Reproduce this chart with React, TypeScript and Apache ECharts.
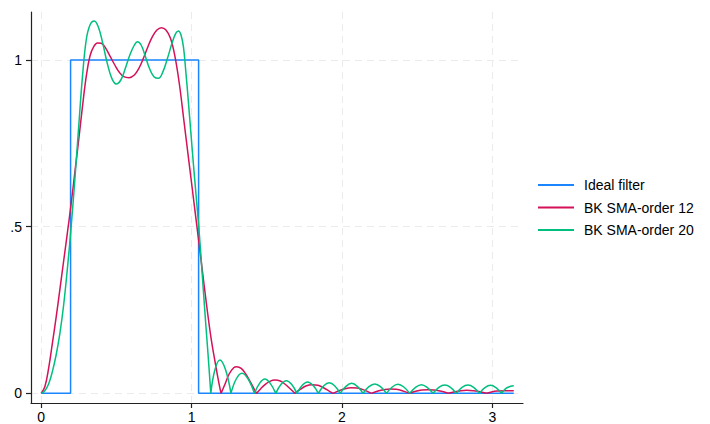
import React, { useEffect, useRef } from "react";
import * as echarts from "echarts";

const seriesNames = ["Ideal filter", "BK SMA-order 12", "BK SMA-order 20"];
const seriesColors = ["#1a85ff", "#d41159", "#00bf7f"];
const xTicks = [0, 1, 2, 3];
const yTicks = [0, 0.5, 1];
const yTickLabels = ["0", ".5", "1"];

const idealFilter = [
  [0, 0], [0.196, 0], [0.196, 1], [1.047, 1], [1.047, 0], [3.1416, 0],
];

const bkOrder12 = [
  [0, 0], [0.025, 0.02], [0.05, 0.075], [0.075, 0.15], [0.1, 0.228], [0.125, 0.312],
  [0.15, 0.397], [0.175, 0.482], [0.2, 0.57], [0.225, 0.665], [0.25, 0.76], [0.275, 0.86],
  [0.3, 0.95], [0.325, 1.012], [0.35, 1.04], [0.375, 1.051], [0.4, 1.05], [0.43, 1.035],
  [0.46, 1.01], [0.49, 0.985], [0.52, 0.963], [0.55, 0.95], [0.585, 0.947], [0.62, 0.955],
  [0.65, 0.975], [0.68, 1.005], [0.71, 1.04], [0.74, 1.07], [0.77, 1.09], [0.8, 1.097],
  [0.83, 1.09], [0.86, 1.065], [0.89, 1.01], [0.92, 0.925], [0.95, 0.815], [0.98, 0.705],
  [1.01, 0.595], [1.04, 0.485], [1.07, 0.375], [1.1, 0.265], [1.13, 0.165], [1.16, 0.085],
  [1.18, 0.035], [1.196, 0],
  [1.22, 0.025], [1.25, 0.058], [1.28, 0.077], [1.3, 0.08], [1.33, 0.075], [1.36, 0.058],
  [1.39, 0.035], [1.41, 0.018], [1.432, 0],
  [1.46, 0.014], [1.49, 0.027], [1.52, 0.036], [1.555, 0.04], [1.59, 0.037], [1.62, 0.028],
  [1.65, 0.016], [1.687, 0],
  [1.72, 0.011], [1.76, 0.022], [1.8, 0.026], [1.84, 0.024], [1.88, 0.016], [1.91, 0.008],
  [1.94, 0],
  [1.98, 0.008], [2.02, 0.014], [2.06, 0.017], [2.1, 0.016], [2.14, 0.011], [2.195, 0],
  [2.24, 0.007], [2.28, 0.011], [2.32, 0.013], [2.36, 0.012], [2.4, 0.008], [2.45, 0],
  [2.49, 0.006], [2.53, 0.01], [2.57, 0.011], [2.61, 0.01], [2.66, 0.006], [2.705, 0],
  [2.75, 0.005], [2.79, 0.008], [2.83, 0.009], [2.87, 0.008], [2.92, 0.005], [2.96, 0],
  [3.0, 0.005], [3.04, 0.007], [3.08, 0.008], [3.12, 0.008], [3.1416, 0.008],
];

const bkOrder20 = [
  [0, 0], [0.025, 0.008], [0.05, 0.028], [0.075, 0.065], [0.1, 0.115], [0.125, 0.18],
  [0.15, 0.265], [0.175, 0.375], [0.2, 0.5], [0.225, 0.645], [0.25, 0.8], [0.275, 0.95],
  [0.3, 1.06], [0.325, 1.105], [0.353, 1.117], [0.38, 1.1], [0.41, 1.05], [0.44, 0.99],
  [0.47, 0.945], [0.499, 0.928], [0.53, 0.94], [0.56, 0.975], [0.59, 1.015], [0.62, 1.045],
  [0.641, 1.055], [0.665, 1.045], [0.69, 1.015], [0.72, 0.975], [0.75, 0.95], [0.78, 0.945],
  [0.81, 0.965], [0.84, 1.005], [0.87, 1.05], [0.895, 1.08], [0.913, 1.087], [0.93, 1.075],
  [0.946, 1.04], [0.962, 0.965], [0.979, 0.875], [0.995, 0.785], [1.012, 0.69], [1.03, 0.595],
  [1.048, 0.5], [1.065, 0.395], [1.08, 0.3], [1.095, 0.205], [1.11, 0.115], [1.128, 0],
  [1.155, 0.07], [1.188, 0.1], [1.225, 0.072], [1.262, 0],
  [1.297, 0.043], [1.335, 0.06], [1.376, 0.043], [1.418, 0],
  [1.452, 0.03], [1.487, 0.043], [1.523, 0.03], [1.56, 0],
  [1.595, 0.027], [1.63, 0.038], [1.665, 0.027], [1.7, 0],
  [1.736, 0.024], [1.771, 0.034], [1.807, 0.024], [1.843, 0],
  [1.879, 0.023], [1.915, 0.032], [1.951, 0.023], [1.988, 0],
  [2.026, 0.021], [2.064, 0.03], [2.102, 0.021], [2.14, 0],
  [2.179, 0.02], [2.218, 0.028], [2.256, 0.02], [2.295, 0],
  [2.334, 0.019], [2.372, 0.027], [2.411, 0.019], [2.45, 0],
  [2.489, 0.018], [2.528, 0.026], [2.566, 0.018], [2.605, 0],
  [2.644, 0.018], [2.683, 0.025], [2.721, 0.018], [2.76, 0],
  [2.798, 0.018], [2.837, 0.025], [2.875, 0.018], [2.913, 0],
  [2.95, 0.017], [2.987, 0.024], [3.023, 0.017], [3.06, 0],
  [3.09, 0.015], [3.12, 0.021], [3.1416, 0.023],
];

// split the |gain| curve at interior zeros so each lobe keeps its cusp
function withCusps(points: number[][]) {
  const out: any[] = [];
  points.forEach((p, i) => {
    out.push(p);
    if (i > 0 && i < points.length - 1 && p[1] === 0) {
      out.push([p[0], "-"]);
      out.push(p);
    }
  });
  return out;
}

export default function App() {
  const ref = useRef<HTMLDivElement>(null);
  useEffect(() => {
    if (!ref.current) return;
    const chart = echarts.init(ref.current, null, { renderer: "svg" });
    const gridLine = {
      show: true,
      lineStyle: { color: "#ebebeb", width: 1, type: [7, 5] as any },
    };
    const axisText = { color: "#000", fontSize: 14, fontFamily: "Liberation Sans, Arial, sans-serif" };
    chart.setOption({
      animation: false,
      backgroundColor: "#fff",
      grid: { left: 31, top: 12, right: 187, bottom: 21, containLabel: false },
      legend: {
        orient: "vertical",
        left: 537,
        top: 178,
        padding: 0,
        itemWidth: 36,
        itemHeight: 14,
        itemGap: 8.5,
        data: seriesNames,
        itemStyle: { opacity: 0 },
        textStyle: { ...axisText, lineHeight: 14, padding: [0, 0, 0, 5] },
      },
      xAxis: {
        type: "value",
        min: -0.067,
        max: 3.203,
        axisLine: { show: true, onZero: false, lineStyle: { color: "#222", width: 1.2 } },
        axisTick: { show: true, length: 5, customValues: xTicks, lineStyle: { color: "#222", width: 1.2 } },
        axisLabel: { ...axisText, margin: 7, customValues: xTicks, formatter: (v: number) => String(v) },
        splitLine: gridLine,
      },
      yAxis: {
        type: "value",
        min: -0.029,
        max: 1.144,
        axisLine: { show: true, onZero: false, lineStyle: { color: "#222", width: 1.2 } },
        axisTick: { show: true, length: 5, customValues: yTicks, lineStyle: { color: "#222", width: 1.2 } },
        axisLabel: {
          ...axisText,
          margin: 9,
          customValues: yTicks,
          formatter: (v: number) => {
            const i = yTicks.indexOf(v);
            return i >= 0 ? yTickLabels[i] : "";
          },
        },
        splitLine: gridLine,
      },
      series: [
        {
          name: seriesNames[0],
          type: "line",
          data: idealFilter,
          symbol: "none",
          color: seriesColors[0],
          lineStyle: { width: 1.5, color: seriesColors[0] },
        },
        {
          name: seriesNames[1],
          type: "line",
          data: withCusps(bkOrder12),
          symbol: "none",
          smooth: 0.4,
          connectNulls: false,
          color: seriesColors[1],
          lineStyle: { width: 1.5, color: seriesColors[1] },
        },
        {
          name: seriesNames[2],
          type: "line",
          data: withCusps(bkOrder20),
          symbol: "none",
          smooth: 0.4,
          connectNulls: false,
          color: seriesColors[2],
          lineStyle: { width: 1.5, color: seriesColors[2] },
        },
      ],
    });
    return () => chart.dispose();
  }, []);
  return (
    <div
      ref={ref}
      style={{ position: "fixed", left: 0, top: 0, width: 710, height: 424, background: "#fff" }}
    />
  );
}
